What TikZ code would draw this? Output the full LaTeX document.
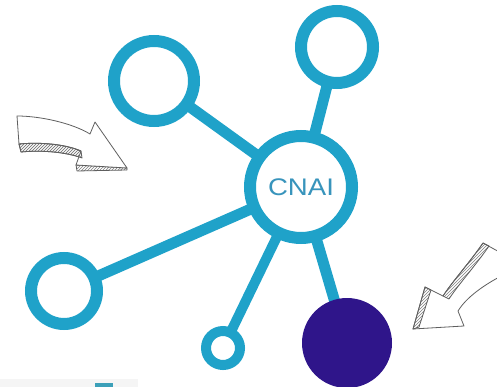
\documentclass[tikz,border=0pt]{standalone}
\usepackage{fontspec}
\setmainfont{Liberation Sans}
\usetikzlibrary{backgrounds,patterns}
\definecolor{netblue}{RGB}{31,162,201}
\definecolor{labelblue}{RGB}{56,148,188}
\definecolor{hubdark}{RGB}{47,21,138}
\definecolor{sketch}{RGB}{95,95,95}
\definecolor{tabteal}{RGB}{60,160,185}
\begin{document}
\begin{tikzpicture}[x=1pt,y=-1pt,
  ring/.style={circle, draw=netblue, fill=white, line width=12pt, inner sep=0pt},
  link/.style={draw=netblue, line width=11pt},
  sketchline/.style={draw=sketch, line width=0.8pt, line join=round},
  ribbon/.style={sketchline, pattern=north east lines, pattern color=sketch!80}
]
\useasboundingbox (0,0) rectangle (497,387);

% network nodes
\node[ring, minimum size=102pt, text=labelblue,
      font=\fontsize{24}{24}\selectfont] (hub) at (301,187) {\scalebox{1.15}[1]{CNAI}};
\node[ring, minimum size=80pt] (tl) at (154,81) {};
\node[ring, minimum size=72pt] (tr) at (337,47) {};
\node[ring, minimum size=66pt] (bl) at (64,291) {};
\node[ring, minimum size=34pt, line width=10pt] (sm) at (223,348) {};
\node[circle, fill=hubdark, inner sep=0pt, minimum size=90pt] (dk) at (347,343) {};

% connectors behind the nodes
\begin{scope}[on background layer]
  \draw[link] (hub.center) -- (tl.center);
  \draw[link] (hub.center) -- (tr.center);
  \draw[link] (hub.center) -- (bl.center);
  \draw[link, line width=10pt] (hub.center) -- (sm.center);
  \draw[link] (hub.center) -- (dk.center);
\end{scope}

% hand-drawn arrow on the left
\draw[ribbon] (19,144) -- (21,152) .. controls (42,150) and (66,152) .. (82,158)
  -- (81,151) .. controls (65,144) and (40,142) .. cycle;
\draw[ribbon] (76,165) -- (77,171) -- (127,170) -- (127,168) -- cycle;
\draw[sketchline, fill=white] (17,116) .. controls (40,116) and (72,123) .. (90,134)
  -- (95,122) -- (127,168) -- (76,165) -- (81,151)
  .. controls (65,144) and (40,142) .. (19,144) -- cycle;
\draw[ribbon] (19,144) -- (21,152) .. controls (42,150) and (66,152) .. (82,158)
  -- (81,151) .. controls (65,144) and (40,142) .. cycle;

% hand-drawn arrow on the right
\draw[sketchline, fill=white] (483,243) -- (503,254) -- (503,275)
  .. controls (482,286) and (466,298) .. (458,311)
  -- (464,326) -- (413,329) -- (425,287) -- (443,296)
  .. controls (452,282) and (470,262) .. cycle;
\draw[ribbon] (483,243) .. controls (470,262) and (452,282) .. (443,296)
  -- (449,299) .. controls (458,285) and (476,265) .. (489,246) -- cycle;
\draw[ribbon] (425,287) -- (413,329) -- (419,327) -- (431,290) -- cycle;

% strip along the bottom edge
\fill[gray!8] (0,379) rectangle (138,387);
\fill[tabteal] (95,383) rectangle (113,387);
\end{tikzpicture}
\end{document}
